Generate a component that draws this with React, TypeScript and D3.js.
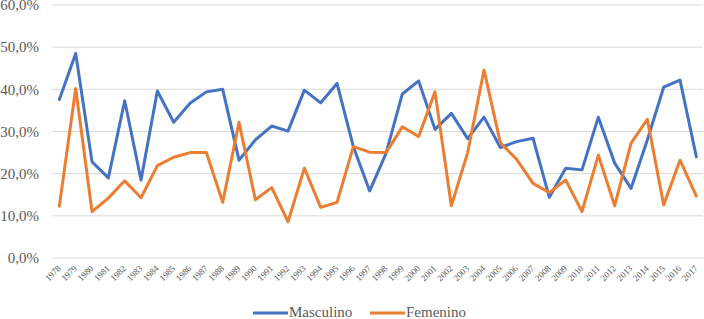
import React from "react";
import * as d3 from "d3";

const years: string[] = [
  "1978","1979","1980","1981","1982","1983","1984","1985","1986","1987",
  "1988","1989","1990","1991","1992","1993","1994","1995","1996","1997",
  "1998","1999","2000","2001","2002","2003","2004","2005","2006","2007",
  "2008","2009","2010","2011","2012","2013","2014","2015","2016","2017",
];

const masculino: number[] = [
  37.6, 48.5, 22.8, 19.0, 37.3, 18.5, 39.6, 32.2, 36.7, 39.4,
  40.0, 23.2, 28.0, 31.3, 30.1, 39.8, 36.8, 41.4, 26.4, 15.9,
  24.8, 38.9, 42.0, 30.5, 34.3, 28.3, 33.4, 26.2, 27.6, 28.4,
  14.4, 21.3, 20.9, 33.4, 22.5, 16.5, 28.0, 40.5, 42.2, 24.0,
];

const femenino: number[] = [
  12.3, 40.2, 11.0, 14.2, 18.3, 14.3, 21.9, 23.9, 25.0, 25.0,
  13.2, 32.2, 13.8, 16.7, 8.6, 21.3, 12.0, 13.2, 26.4, 25.1,
  25.0, 31.1, 28.8, 39.4, 12.4, 25.0, 44.6, 27.3, 23.4, 17.7,
  15.5, 18.5, 11.0, 24.4, 12.4, 27.2, 32.9, 12.6, 23.2, 14.7,
];

const yTicks: number[] = [0, 10, 20, 30, 40, 50, 60];

const seriesNames: string[] = ["Masculino", "Femenino"];
const seriesColors: string[] = ["#4472C4", "#ED7D31"];

const W = 704;
const H = 319;
const FONT = "Liberation Serif, DejaVu Serif, Noto Serif, serif";

export default function App() {
  const x = d3.scalePoint<string>().domain(years).range([51.2, 704.5]).padding(0.5);
  const y = d3.scaleLinear().domain([0, 60]).range([258, 5]);
  const line = d3
    .line<number>()
    .x((_, i) => x(years[i]) as number)
    .y((d) => y(d));

  const fmt = (v: number) => v.toFixed(1).replace(".", ",") + "%";
  const series = [masculino, femenino];

  const legendX = [253, 370];

  return (
    <svg
      width={W}
      height={H}
      style={{ position: "absolute", left: 0, top: 0, display: "block", background: "#fff", fontFamily: FONT }}
    >
      {yTicks.map((t) => (
        <g key={t}>
          <line x1={52} x2={703} y1={y(t)} y2={y(t)} stroke="#d9d9d9" strokeWidth={1} />
          <text
            x={39}
            y={y(t)}
            dy="0.35em"
            textAnchor="end"
            style={{ fontFamily: FONT }}
            fontSize={15}
            fill="#595959"
          >
            {fmt(t)}
          </text>
        </g>
      ))}
      {years.map((yr) => (
        <text
          key={yr}
          transform={`translate(${(x(yr) as number) + 2},269) rotate(-45)`}
          textAnchor="end"
          style={{ fontFamily: FONT }}
          fontSize={9}
          fill="#595959"
        >
          {yr}
        </text>
      ))}
      {series.map((s, i) => (
        <path
          key={seriesNames[i]}
          d={line(s) || ""}
          fill="none"
          stroke={seriesColors[i]}
          strokeWidth={3}
          strokeLinejoin="round"
          strokeLinecap="round"
        />
      ))}
      {seriesNames.map((n, i) => (
        <g key={n}>
          <line
            x1={legendX[i]}
            x2={legendX[i] + 35}
            y1={313}
            y2={313}
            stroke={seriesColors[i]}
            strokeWidth={3}
          />
          <text x={legendX[i] + 36} y={317} style={{ fontFamily: FONT }} fontSize={15} fill="#595959">
            {n}
          </text>
        </g>
      ))}
    </svg>
  );
}
